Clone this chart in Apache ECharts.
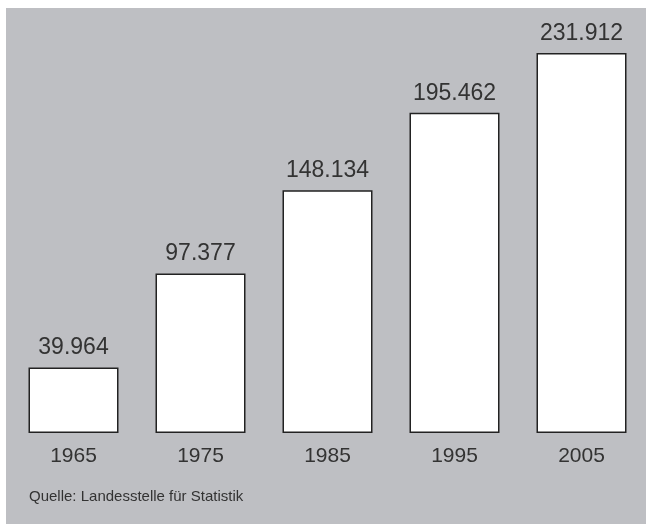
<!DOCTYPE html>
<html>
<head>
<meta charset="utf-8">
<script src="https://cdn.jsdelivr.net/npm/echarts@6/dist/echarts.min.js"></script>
<style>
  html, body { margin: 0; padding: 0; background: #ffffff; }
  #chart { width: 646px; height: 524px; }
</style>
</head>
<body>
<div id="chart"></div>
<script>
var years = ['1965', '1975', '1985', '1995', '2005'];
var values = [39.964, 97.377, 148.134, 195.462, 231.912];
var labels = ['39.964', '97.377', '148.134', '195.462', '231.912'];
var source = 'Quelle: Landesstelle für Statistik';

var FONT = '"Liberation Sans", Arial, sans-serif';
var chart = echarts.init(document.getElementById('chart'));

var option = {
  backgroundColor: '#ffffff',
  animation: false,
  graphic: [
    {
      type: 'rect',
      z: -10,
      silent: true,
      shape: { x: 6, y: 8, width: 640, height: 516 },
      style: { fill: '#bebfc3' }
    },
    {
      type: 'text',
      left: 29,
      top: 489,
      style: { text: source, font: '15px ' + FONT, fill: '#333333' }
    }
  ],
  grid: { left: 10, right: 1, top: 53, bottom: 91 },
  xAxis: {
    type: 'category',
    data: years,
    axisLine: { show: false },
    axisTick: { show: false },
    axisLabel: { color: '#333333', fontSize: 21, fontFamily: FONT, margin: 13 }
  },
  yAxis: {
    type: 'value',
    min: 0,
    max: 231.912,
    show: false,
    splitLine: { show: false }
  },
  series: [{
    type: 'bar',
    data: values,
    barWidth: 90,
    itemStyle: { color: '#ffffff', borderColor: '#222222', borderWidth: 1.5 },
    label: {
      show: true,
      position: 'top',
      distance: 8,
      color: '#333333',
      fontSize: 23,
      fontFamily: FONT,
      formatter: function (p) { return labels[p.dataIndex]; }
    }
  }]
};

chart.setOption(option);
</script>
</body>
</html>
